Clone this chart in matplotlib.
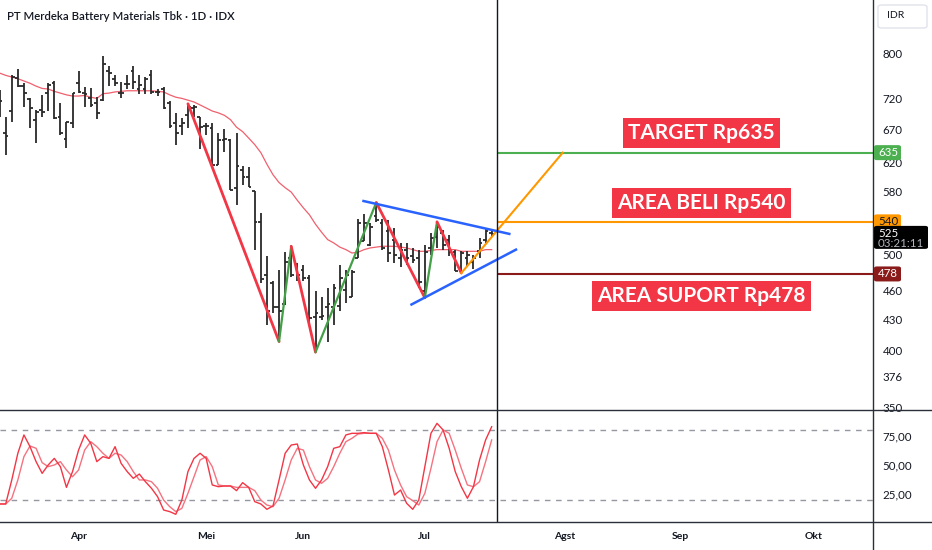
import matplotlib
matplotlib.use('Agg')
import matplotlib.pyplot as plt
from matplotlib.patches import FancyBboxPatch
from matplotlib.lines import Line2D

plt.rcParams['font.family'] = ['Lato', 'DejaVu Sans']

# ---------------- data ----------------
bar_idx = list(range(-1, 81))
bar_open = [725, 665, 700, 756, 742, 720, 686, 702, 730, 747, 690, 656, 681, 747, 730, 722,
            713, 718, 768, 755, 731, 746, 768, 737, 737, 762, 732, 737, 713, 681, 676, 694,
            705, 690, 676, 673, 617, 654, 654, 585, 610, 600, 580, 540, 477, 468, 442, 446,
            496, 485, 482, 473, 432, 432, 442, 442, 443, 460, 453, 496, 516, 512, 548, 538,
            528, 518, 496, 506, 498, 496, 459, 508, 521, 526, 518, 503, 481, 496, 492, 504,
            518, 526]
bar_high = [735, 691, 762, 773, 747, 722, 702, 727, 747, 751, 713, 683, 731, 768, 740, 738,
            724, 796, 778, 762, 750, 762, 777, 762, 758, 771, 737, 740, 716, 697, 689, 712,
            710, 691, 681, 681, 665, 671, 656, 665, 616, 614, 580, 551, 498, 470, 482, 503,
            510, 490, 488, 477, 459, 453, 463, 467, 488, 482, 482, 544, 550, 538, 565, 544,
            542, 532, 514, 514, 508, 506, 511, 526, 540, 530, 524, 506, 504, 504, 500, 520,
            531, 530]
bar_low = [690, 632, 683, 741, 707, 673, 650, 691, 700, 687, 662, 642, 673, 730, 706, 706,
           687, 716, 742, 742, 721, 737, 737, 728, 728, 728, 725, 703, 672, 646, 662, 673,
           691, 641, 662, 617, 617, 636, 582, 562, 589, 586, 506, 468, 424, 436, 408, 444,
           475, 470, 470, 426, 398, 429, 408, 424, 438, 447, 453, 496, 516, 510, 540, 506,
           492, 490, 486, 488, 490, 463, 452, 500, 508, 506, 498, 481, 479, 486, 484, 496,
           514, 521]
bar_close = [716, 660, 758, 742, 730, 705, 698, 698, 744, 689, 665, 682, 730, 732, 728, 710,
             697, 782, 765, 747, 731, 746, 750, 744, 755, 732, 732, 705, 676, 665, 681, 706,
             706, 674, 676, 617, 654, 656, 582, 616, 600, 586, 540, 472, 438, 442, 438, 492,
             477, 477, 473, 431, 436, 433, 445, 463, 473, 477, 480, 538, 538, 534, 542, 508,
             502, 500, 506, 496, 494, 469, 503, 520, 534, 512, 503, 481, 502, 500, 496, 514,
             529, 525]
ma_line = [765, 761, 758, 755, 751, 747, 742, 738, 737, 733, 730, 727, 725, 725, 726, 723,
           721, 729, 730, 732, 733, 734, 734, 734, 734, 734, 733, 732, 727, 723, 721, 718,
           715, 710, 705, 700, 697, 693, 686, 674, 667, 657, 647, 635, 618, 603, 592, 585,
           579, 568, 558, 549, 537, 527, 518, 514, 509, 506, 502, 503, 506, 508, 509, 510,
           510, 510, 509, 508, 506, 504, 504, 505, 506, 506, 506, 506, 504, 504, 504, 504,
           506, 506]
stoch_k = [16.4, 16.4, 37.1, 60.1, 75.9, 65.8, 52.9, 42.8, 50.0, 55.7, 48.6, 30.7, 44.3, 62.9,
           75.9, 68.7, 52.9, 57.2, 55.7, 65.8, 51.4, 44.3, 38.5, 42.2, 35.6, 29.9, 22.7, 11.2,
           9.8, 7.5, 19.8, 44.3, 55.7, 60.1, 55.7, 32.8, 31.3, 31.9, 31.9, 27.9, 34.8, 30.7,
           18.4, 16.4, 11.8, 14.7, 37.1, 60.1, 67.2, 68.1, 50.0, 37.1, 29.9, 37.1, 48.6, 64.4,
           65.8, 75.9, 77.3, 77.3, 77.9, 77.3, 77.3, 65.8, 45.7, 24.1, 28.4, 17.0, 11.8, 19.8,
           48.6, 77.3, 85.9, 80.2, 64.4, 44.3, 31.3, 21.3, 31.3, 54.3, 71.6, 83.0]
stoch_d = [16.4, 16.4, 21.3, 37.1, 57.2, 66.4, 64.4, 52.0, 48.6, 50.0, 52.9, 45.7, 39.9, 45.7,
           62.9, 70.1, 65.8, 60.1, 55.7, 60.1, 58.6, 52.9, 44.3, 37.1, 37.1, 35.6, 29.9, 19.8,
           14.1, 9.8, 12.6, 25.6, 39.9, 54.3, 57.2, 48.6, 32.8, 31.9, 31.9, 30.7, 30.7, 30.7,
           27.9, 19.8, 15.5, 14.1, 21.3, 37.1, 54.3, 64.4, 62.9, 48.6, 37.1, 34.2, 38.5, 48.6,
           60.1, 70.1, 73.0, 76.7, 77.3, 77.3, 77.3, 73.0, 62.9, 45.7, 32.8, 22.7, 19.3, 15.5,
           25.6, 47.1, 70.1, 80.2, 77.3, 62.9, 47.1, 32.8, 31.3, 35.6, 52.9, 71.6]

zigzag_idx = [30, 45, 47, 51, 61, 69, 71, 75]
zigzag_price = [712, 408, 510, 398, 565, 452, 540, 479]
projection_idx = [75, 91.7]
projection_price = [479, 635]
upper_trend_idx = [58.9, 82.9]
upper_trend_price = [567, 525]
lower_trend_idx = [66.8, 84.0]
lower_trend_price = [445, 506]

level_target = 635
level_buy = 540
level_support = 478
last_price = 525
countdown = '03:21:11'
cursor_idx = 80.87

price_ticks = [350, 376, 400, 430, 460, 500, 580, 620, 670, 720, 800]
osc_ticks = [25, 50, 75]
osc_tick_labels = ['25,00', '50,00', '75,00']
month_pos = [12, 33, 49, 69, 92, 111, 133]
month_labels = ['Apr', 'Mei', 'Jun', 'Jul', 'Agst', 'Sep', 'Okt']

title = 'PT Merdeka Battery Materials Tbk · 1D · IDX'

# ---------------- figure ----------------
W, H = 932, 550
fig = plt.figure(figsize=(W / 100, H / 100), dpi=100)
fig.patch.set_facecolor('white')

x_right = 873
ax = fig.add_axes([0, (H - 410) / H, x_right / W, 410 / H])
axo = fig.add_axes([0, (H - 522) / H, x_right / W, 112 / H])

XMIN, XMAX = -0.938, 142.77
for a in (ax, axo):
    a.set_xlim(XMIN, XMAX)
    a.set_facecolor('white')
    for s in a.spines.values():
        s.set_visible(False)

ax.set_yscale('log')
ax.set_ylim(347.6, 907.8)
ax.yaxis.set_major_locator(matplotlib.ticker.FixedLocator(price_ticks))
ax.yaxis.set_minor_locator(matplotlib.ticker.NullLocator())
ax.set_yticklabels([str(t) for t in price_ticks])
ax.yaxis.tick_right()
ax.tick_params(axis='y', length=0, pad=7, labelsize=8.3, labelcolor='#131722')
ax.set_xticks([])

bar_col = '#2a2a2a'
hw = 0.45
ax.vlines(bar_idx, bar_low, bar_high, color=bar_col, lw=1.3, zorder=3)
ax.hlines(bar_open, [i - hw for i in bar_idx], bar_idx, color=bar_col, lw=1.3, zorder=3)
ax.hlines(bar_close, bar_idx, [i + hw for i in bar_idx], color=bar_col, lw=1.3, zorder=3)

ax.plot(bar_idx, ma_line, color='#f0606e', lw=0.9, zorder=2)

# zigzag
for k in range(len(zigzag_idx) - 1):
    down = zigzag_price[k + 1] < zigzag_price[k]
    ax.plot(zigzag_idx[k:k + 2], zigzag_price[k:k + 2],
            color='#f23645' if down else '#43a047', lw=2.0 if down else 1.6,
            zorder=4, solid_capstyle='round')
ax.plot(projection_idx, projection_price, color='#ff9800', lw=1.5, zorder=4)
ax.plot(upper_trend_idx, upper_trend_price, color='#2962ff', lw=1.8, zorder=4)
ax.plot(lower_trend_idx, lower_trend_price, color='#2962ff', lw=1.8, zorder=4)

# levels
ax.hlines(level_target, cursor_idx, XMAX, color='#4caf50', lw=1.5, zorder=3)
ax.hlines(level_buy, cursor_idx, XMAX, color='#ff9800', lw=1.5, zorder=3)
ax.hlines(level_support, cursor_idx, XMAX, color='#8b1a1a', lw=1.5, zorder=3)

box_kw = dict(ha='center', va='center', color='white', fontsize=15, fontweight='bold', zorder=6)
bb = dict(boxstyle='square,pad=0.25', fc='#f23645', ec='none')
ax.text(114.5, 665, f'TARGET Rp{level_target}', bbox=bb, **box_kw)
ax.text(114.5, 564, f'AREA BELI Rp{level_buy}', bbox=bb, **box_kw)
ax.text(114.5, 454, f'AREA SUPORT Rp{level_support}', bbox=bb, **box_kw)

# oscillator
axo.set_ylim(0.86, 97.4)
axo.plot(bar_idx, stoch_d, color='#f47380', lw=1.0, zorder=3)
axo.plot(bar_idx, stoch_k, color='#f23645', lw=1.0, zorder=4)
axo.axhline(80, color='#9598a1', lw=1.0, ls=(0, (4, 4)), zorder=2)
axo.axhline(20, color='#9598a1', lw=1.0, ls=(0, (4, 4)), zorder=2)
axo.set_yticks(osc_ticks)
axo.set_yticklabels(osc_tick_labels)
axo.yaxis.tick_right()
axo.tick_params(axis='y', length=0, pad=7, labelsize=8.3, labelcolor='#131722')
axo.set_xticks(month_pos)
axo.set_xticklabels(month_labels)
axo.tick_params(axis='x', length=0, pad=7, labelsize=7.5, labelcolor='#131722')
for t in axo.get_xticklabels():
    t.set_fontweight('bold')

# vertical cursor line
ax.axvline(cursor_idx, color='#131722', lw=1.0, zorder=5)
axo.axvline(cursor_idx, color='#131722', lw=1.0, zorder=5)

# frame lines
fig.add_artist(Line2D([0, 1], [(H - 410) / H] * 2, color='#2a2e39', lw=1.0, transform=fig.transFigure))
fig.add_artist(Line2D([0, 1], [(H - 522) / H] * 2, color='#2a2e39', lw=1.0, transform=fig.transFigure))
fig.add_artist(Line2D([x_right / W] * 2, [0, 1], color='#2a2e39', lw=1.0, transform=fig.transFigure))

# header
fig.text(7 / W, 1 - 16 / H, title, fontsize=8.2, color='#131722', va='center', ha='left',
         fontweight='semibold')

# IDR box
fig.add_artist(FancyBboxPatch((878 / W, 1 - 28 / H), 49 / W, 23 / H,
                              boxstyle='round,pad=0,rounding_size=0.004',
                              fc='white', ec='#e0e3eb', lw=1.0, transform=fig.transFigure))
fig.text(887 / W, 1 - 16 / H, 'IDR', fontsize=7.5, color='#131722', va='center', ha='left')


def ypix(price):
    return ax.transData.transform((0, price))[1]


def badge(price, text, fc, tc, w=27, h=15):
    yc = ypix(price)
    fig.add_artist(FancyBboxPatch(((x_right + 1) / W, (yc - h / 2) / H), w / W, h / H,
                                  boxstyle='round,pad=0,rounding_size=0.003',
                                  fc=fc, ec='none', transform=fig.transFigure, zorder=10))
    fig.text((x_right + 5) / W, yc / H, text, fontsize=8.3, color=tc, va='center', ha='left',
             zorder=11)


badge(level_target, str(level_target), '#4caf50', 'white')
badge(level_buy, str(level_buy), '#ff9800', '#131722')
badge(level_support, str(level_support), '#8b1a1a', 'white')

yc = ypix(last_price)
fig.add_artist(FancyBboxPatch(((x_right + 1) / W, (yc - 15) / H), 54 / W, 23 / H,
                              boxstyle='round,pad=0,rounding_size=0.003',
                              fc='#000000', ec='none', transform=fig.transFigure, zorder=10))
fig.text((x_right + 5) / W, (yc + 0.5) / H, str(last_price), fontsize=8.3, color='white',
         va='center', ha='left', zorder=11)
fig.text((x_right + 5) / W, (yc - 9.5) / H, countdown, fontsize=8.3, color='#b2b5be',
         va='center', ha='left', zorder=11)

fig.savefig('out.png', dpi=100)
